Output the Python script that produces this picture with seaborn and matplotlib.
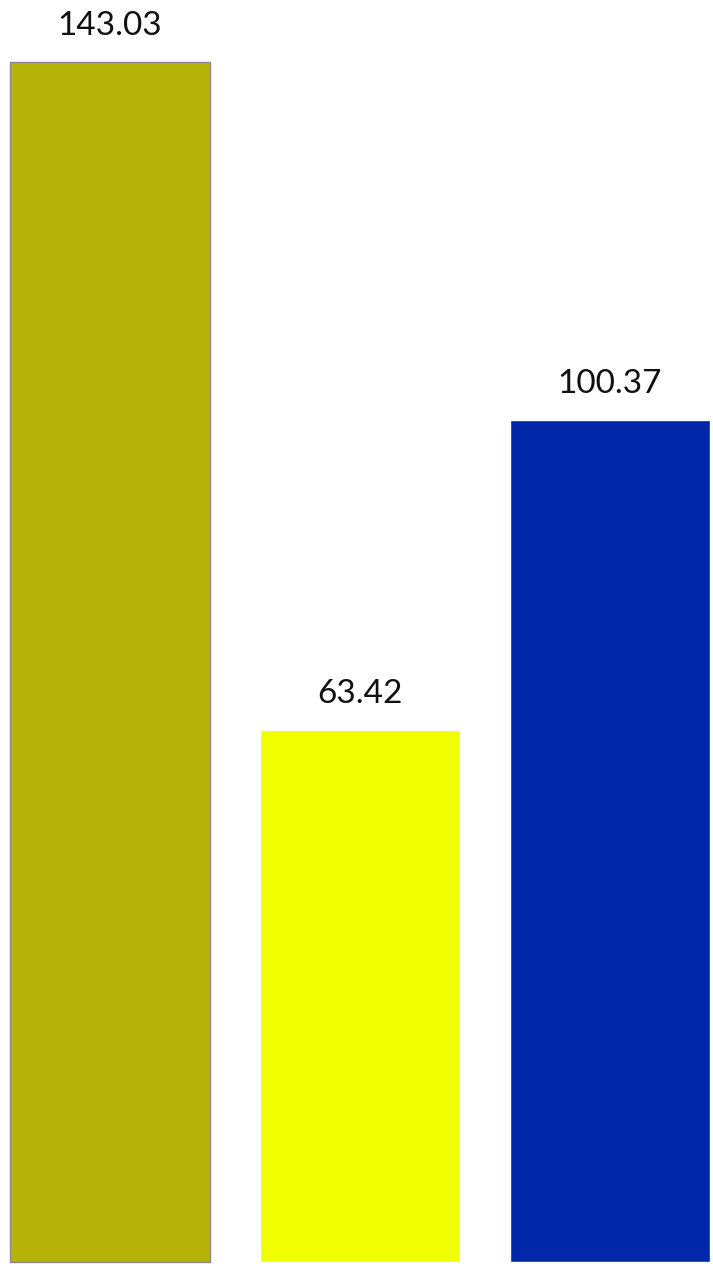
import matplotlib
matplotlib.use("Agg")
import matplotlib.pyplot as plt
import seaborn as sns
import pandas as pd

categories = ["A", "B", "C"]
values = [143.03, 63.42, 100.37]
colors = ["#B5B308", "#F0FF00", "#0026AA"]

df = pd.DataFrame({"category": categories, "value": values})

sns.set_theme(style="white")
plt.rcParams["font.family"] = ["Lato", "DejaVu Sans"]

fig = plt.figure(figsize=(7.13, 12.67), dpi=100)
ax = fig.add_axes([0, 0, 1, 1])

sns.barplot(data=df, x="category", y="value", hue="category", palette=colors,
            legend=False, width=0.8, ax=ax, saturation=1)

# thin grey outline on the first bar
ax.patches[0].set_edgecolor("#8a8a8a")
ax.patches[0].set_linewidth(1.0)

for patch, v in zip(ax.patches, values):
    ax.annotate(f"{v:.2f}", (patch.get_x() + patch.get_width() / 2, v),
                xytext=(0, 19.5), textcoords="offset points",
                ha="center", va="baseline", fontsize=24, color="#111111")

ax.set_xlim(-0.44, 2.412)
ax.set_ylim(-0.6, 150.4)
ax.axis("off")

fig.savefig("out.png", dpi=100, facecolor="white")
